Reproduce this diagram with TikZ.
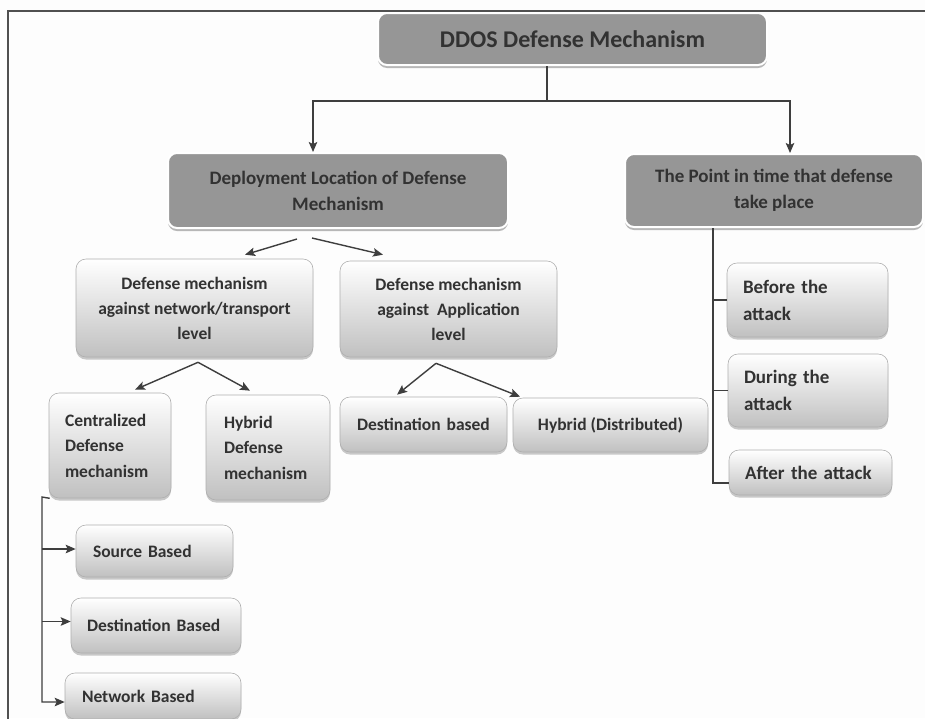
\documentclass[tikz,border=0pt]{standalone}
\usepackage{fontspec}
\setmainfont{Carlito}
\usetikzlibrary{arrows.meta,shadows,calc}
\definecolor{darkfill}{RGB}{150,150,150}
\definecolor{txt}{RGB}{50,50,50}
\definecolor{lnc}{RGB}{62,62,62}
\definecolor{frm}{RGB}{80,80,80}
\definecolor{bord}{RGB}{175,175,175}
\definecolor{lbot}{RGB}{192,192,192}
\definecolor{bgc}{RGB}{253,253,253}
\newcommand\FnTitle{\bfseries\fontsize{24}{28}\selectfont}
\newcommand\FnMid{\bfseries\fontsize{19}{26}\selectfont}
\newcommand\FnLev{\bfseries\fontsize{17.5}{25}\selectfont}
\newcommand\FnLeaf{\bfseries\fontsize{17.5}{25.5}\selectfont}
\newcommand\FnRight{\bfseries\fontsize{19}{27}\selectfont}
\begin{document}
\begin{tikzpicture}[x=1pt,y=-1pt,
  darkbox/.style={rounded corners=9pt, fill=darkfill, draw=white, line width=2pt,
    drop shadow={shadow xshift=0pt, shadow yshift=-3pt, fill=gray!70, opacity=0.8},
    text=txt, inner sep=0pt, align=center},
  lightbox/.style={rounded corners=10pt, draw=bord, line width=0.6pt, top color=white, bottom color=lbot,
    drop shadow={shadow xshift=0pt, shadow yshift=-2.5pt, fill=gray!60, opacity=0.7},
    text=txt, inner ysep=0pt},
  conn/.style={draw=lnc, line width=1.4pt},
  arr/.style={conn, -{Stealth[length=10pt,width=8.5pt,inset=2pt]}},
  frame/.style={draw=frm, line width=1.6pt},
]
\useasboundingbox (0,0) rectangle (925,718);
\clip (0,0) rectangle (925,718);
\fill[bgc] (0,0) rectangle (925,718);
\draw[frame] (926,11) -- (8,11) -- (8,719);

% level 0 and 1
\node[darkbox, minimum width=389pt, minimum height=52pt, font=\FnTitle] (top) at (572.5,39) {DDOS Defense Mechanism};
\node[darkbox, minimum width=340pt, minimum height=75pt, font=\FnMid] (dep) at (338,190.5) {Deployment Location of Defense\\Mechanism};
\node[darkbox, minimum width=298pt, minimum height=73pt, font=\FnMid] (pt) at (774,190.5) {The Point in time that defense\\take place};

% level 2
\node[lightbox, minimum width=237pt, minimum height=98pt, align=center, font=\FnLev] (net) at (194.5,308) {Defense mechanism\\against network/transport\\level};
\node[lightbox, minimum width=217pt, minimum height=96pt, align=center, font=\FnLev] (app) at (448.5,309) {Defense mechanism\\against \ Application\\level};

% level 3
\node[lightbox, minimum width=122pt, minimum height=105pt, text width=90pt, inner xsep=16pt, align=left, font=\FnLeaf] (cent) at (110,445.5) {Centralized\\Defense\\mechanism};
\node[lightbox, minimum width=124pt, minimum height=105pt, text width=88pt, inner xsep=18pt, align=left, font=\FnLeaf] (hyb) at (268,447.5) {Hybrid\\Defense\\mechanism};
\node[lightbox, minimum width=167pt, minimum height=55pt, text width=133pt, inner xsep=17pt, align=left, font=\FnLeaf] (dstb) at (423.5,424.5) {Destination based};
\node[lightbox, minimum width=195pt, minimum height=54pt, align=center, font=\FnLeaf] (hdist) at (610.5,425) {Hybrid (Distributed)};

% right column
\node[lightbox, minimum width=161pt, minimum height=74pt, text width=129pt, inner xsep=16pt, align=left, font=\FnRight] (before) at (807.5,300) {Before the\\attack};
\node[lightbox, minimum width=160pt, minimum height=73pt, text width=128pt, inner xsep=16pt, align=left, font=\FnRight] (during) at (808,390.5) {During the\\attack};
\node[lightbox, minimum width=163pt, minimum height=45pt, text width=131pt, inner xsep=16pt, align=left, font=\FnRight] (after) at (810.5,472.5) {\mbox{After the attack}};

% bottom left
\node[lightbox, minimum width=157pt, minimum height=52pt, text width=123pt, inner xsep=17pt, align=left, font=\FnLeaf] (src) at (154.5,551) {Source Based};
\node[lightbox, minimum width=170pt, minimum height=55pt, text width=138pt, inner xsep=16pt, align=left, font=\FnLeaf] (dst) at (156,625.5) {Destination Based};
\node[lightbox, minimum width=176pt, minimum height=46pt, text width=142pt, inner xsep=17pt, align=left, font=\FnLeaf] (netb) at (153,696) {Network Based};

% connectors top
\coordinate (j) at (547,101);
\draw[conn] ([xshift=-25.5pt]top.south) -- (j);
\draw[arr] (j) -| ([xshift=-25pt]dep.north);
\draw[arr] (j) -| ([xshift=16pt]pt.north);

% deployment forks
\draw[arr] ([shift={(-41pt,-10pt)}]dep.south) -- ([shift={(50.5pt,4pt)}]net.north);
\draw[arr] ([shift={(-26pt,-9pt)}]dep.south) -- ([shift={(-65.5pt,6pt)}]app.north);

% network forks
\draw[arr] ([shift={(3.5pt,-5pt)}]net.south) -- ([shift={(25pt,3pt)}]cent.north);
\draw[arr] ([shift={(3.5pt,-5pt)}]net.south) -- ([shift={(-18pt,4pt)}]hyb.north);

% application forks
\draw[arr] ([shift={(-12.5pt,-6pt)}]app.south) -- ([shift={(-26.5pt,2pt)}]dstb.north);
\draw[arr] ([shift={(-12.5pt,-6pt)}]app.south) -- ([shift={(-90.5pt,1pt)}]hdist.north);

% right spine
\coordinate (sp) at ([xshift=-61pt]pt.south);
\draw[conn] (sp) |- ([yshift=-10.5pt]after.west);
\draw[conn] (sp |- before.west) -- (before.west);
\draw[conn] (sp |- during.west) -- (during.west);

% left bracket
\coordinate (bk) at (42,497);
\coordinate (srcin) at ([yshift=2pt]src.west);
\coordinate (dstin) at ([yshift=4pt]dst.west);
\draw[arr] ([xshift=1pt]cent.south west) -- (bk) |- ([yshift=-6pt]netb.west);
\draw[arr] (bk |- srcin) -- (srcin);
\draw[arr] (bk |- dstin) -- (dstin);
\end{tikzpicture}
\end{document}
